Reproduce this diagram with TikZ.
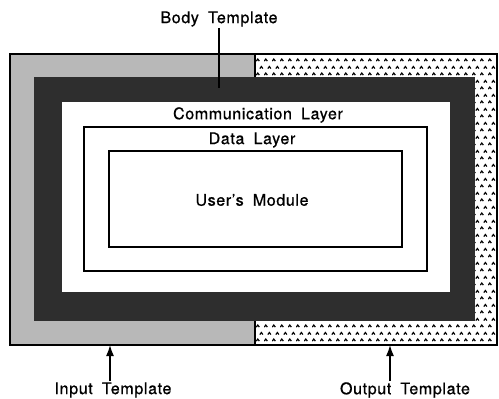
\documentclass[tikz,border=0pt]{standalone}
\usepackage{fontspec}
\setmainfont{TeX Gyre Heros}[LetterSpace=4, WordSpace=1.8, FakeBold=0.8]
\usepackage{tikz}
\usetikzlibrary{arrows.meta, patterns.meta}
\definecolor{inshade}{gray}{0.72}
\definecolor{bodyshade}{gray}{0.18}

\tikzdeclarepattern{
  name=carets,
  type=uncolored,
  bottom left={(0pt,0pt)},
  top right={(8pt,14pt)},
  tile size={(8pt,14pt)},
  code={
    \draw[line width=1.3pt] (0.3pt,2pt) -- (2pt,4.2pt) -- (3.7pt,2pt);
    \draw[line width=1.3pt] (4.3pt,9pt) -- (6pt,11.2pt) -- (7.7pt,9pt);
  }
}

\tikzset{
  lbl/.style={font=\fontsize{16}{18}\selectfont, inner sep=1pt},
  box/.style={draw=black, line width=1.5pt},
  arw/.style={-{Latex[length=11pt, width=8pt]}, line width=1.5pt}
}

\begin{document}
\begin{tikzpicture}[x=1pt, y=-1pt]
    \useasboundingbox (0,0) rectangle (499,399);
    % templates round the body
    \fill[inshade] (10,54) rectangle (255,345);
    \fill[white] (255,54) rectangle (497,345);
    \fill[pattern=carets, pattern color=black] (255,54) rectangle (497,345);
    \draw[box] (10,54) rectangle (497,345);
    \draw[box] (255,54) -- (255,345);
    % body template and layers
    \fill[bodyshade] (34,77) rectangle (475,321);
    \fill[white] (62,102) rectangle (450,292);
    \draw[box] (84,127) rectangle (427,271);
    \draw[box] (109,151) rectangle (402,247);
    \node[lbl] (comm) at (258,115) {Communication Layer};
    \node[lbl] (data) at (252,140) {Data Layer};
    \node[lbl] (user) at (252,200) {User's Module};
    % labels outside
    \node[lbl] (bodyl) at (219,19) {Body Template};
    \coordinate (bodyp) at (219,88);
    \draw[line width=1.2pt] (bodyl.south) -- (bodyp);
    \node[lbl] (inl) at (113,390) {Input Template};
    \coordinate (inp) at (110,345);
    \draw[arw] (inp |- inl.north) -- (inp);
    \node[lbl] (outl) at (405,390) {Output Template};
    \coordinate (outp) at (390,345);
    \draw[arw] (outp |- outl.north) -- (outp);
\end{tikzpicture}
\end{document}
